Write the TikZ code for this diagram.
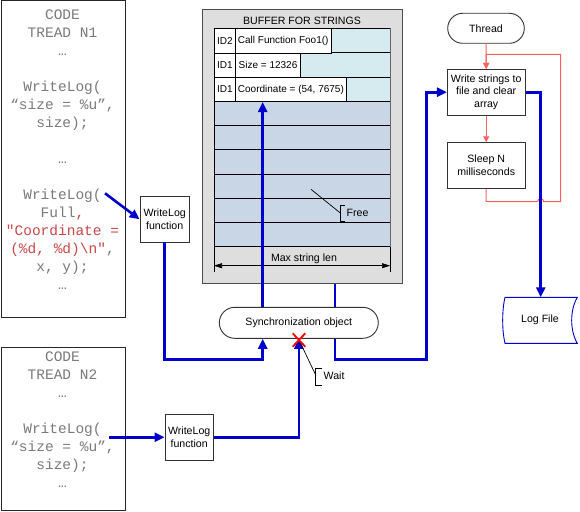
\documentclass[tikz,border=0pt]{standalone}
\usepackage{fontspec}
\setmainfont{Liberation Sans}
\newfontfamily\codefont{Liberation Mono}
\usetikzlibrary{arrows.meta}
\definecolor{codegray}{RGB}{122,122,122}
\definecolor{codered}{RGB}{200,72,72}
\definecolor{flowblue}{RGB}{0,0,204}
\definecolor{loopred}{RGB}{255,96,96}
\definecolor{bufgray}{RGB}{222,222,222}
\definecolor{usedcyan}{RGB}{213,235,240}
\definecolor{freeblue}{RGB}{201,214,230}
\begin{document}
\begin{tikzpicture}[x=1pt,y=-1pt,
  codeline/.style={font=\codefont\fontsize{14.5}{18}\selectfont, text=codegray, anchor=base, inner sep=0pt},
  lbl/.style={font=\fontsize{10.6}{12.8}\selectfont, inner sep=0pt, align=center},
  celltxt/.style={font=\fontsize{10}{12}\selectfont, inner sep=0pt, align=center},
  box/.style={draw=black!80, line width=0.9pt, fill=white, inner sep=0pt, lbl},
  codebox/.style={draw=black!85, line width=1pt, fill=white, inner sep=0pt, anchor=north west},
  cell/.style={draw=black, line width=0.8pt, fill=white, celltxt, anchor=north west, minimum height=24.3},
  bflow/.style={draw=flowblue, line width=2.6pt},
  bflowarr/.style={bflow, -{Triangle[length=10pt,width=9pt]}},
  rflow/.style={draw=loopred, line width=1pt},
  rflowarr/.style={rflow, -{Triangle[length=6pt,width=6pt]}},
  thinline/.style={draw=black, line width=0.7pt},
]
\useasboundingbox (0,0) rectangle (580,511);

% ---------- code boxes ----------
\node[codebox, minimum width=124.8, minimum height=316.2] (code1) at (0.5,0.5) {};
\node[codeline] (c1l1) at (62.5,19.5) {CODE};
\node[codeline] (c1l2) at (62.5,37.5) {TREAD N1};
\node[codeline] (c1l3) at (62.5,55.5) {…};
\node[codeline] (c1l5) at (62.5,91.5) {WriteLog(};
\node[codeline] (c1l6) at (62.5,109.5) {“size = \%u”,};
\node[codeline] (c1l7) at (62.5,127.5) {size);};
\node[codeline] (c1l9) at (62.5,163.5) {…};
\node[codeline] (c1l11) at (62.5,199.5) {WriteLog(};
\node[codeline] (c1l12) at (62.5,217.5) {Full{\color{codered},}};
\node[codeline, text=codered] (c1l13) at (62.5,235.5) {"Coordinate =};
\node[codeline, text=codered] (c1l14) at (62.5,253.5) {(\%d, \%d)\textbackslash n"{\color{codegray},}};
\node[codeline] (c1l15) at (62.5,271.5) {x, y);};
\node[codeline] (c1l16) at (62.5,289.5) {…};

\node[codebox, minimum width=124.8, minimum height=162.7] (code2) at (0.5,347.3) {};
\node[codeline] (c2l1) at (62.5,361.2) {CODE};
\node[codeline] (c2l2) at (62.5,379.2) {TREAD N2};
\node[codeline] (c2l3) at (62.5,397.2) {…};
\node[codeline] (c2l5) at (62.5,433.2) {WriteLog(};
\node[codeline] (c2l6) at (62.5,451.2) {“size = \%u”,};
\node[codeline] (c2l7) at (62.5,469.2) {size);};
\node[codeline] (c2l8) at (62.5,487.2) {…};

% ---------- WriteLog function boxes ----------
\node[box, minimum width=49.3, minimum height=45.3] (fn1) at (164.7,219.3) {WriteLog\\function};
\node[box, minimum width=48.3, minimum height=45.7] (fn2) at (189.2,437.2) {WriteLog\\function};

% ---------- buffer ----------
\node[draw=black!70, line width=0.9pt, fill=bufgray, inner sep=0pt, anchor=north west,
      minimum width=200.6, minimum height=274.3] (buffer) at (201.7,9) {};
\node[lbl] (buftitle) at (302,20.7) {BUFFER FOR STRINGS};
\fill[usedcyan] (214,28.3) rectangle (390,101.1);
\fill[freeblue] (214,101.1) rectangle (390,246.7);
\foreach \yy in {28.3,52.6,76.9,101.1,125.4,149.6,173.9,198.2,222.4,246.7}
  \draw[thinline] (214,\yy) -- (390,\yy);
\draw[thinline] (214,28.3) -- (214,246.7);
\draw[draw=black!60, line width=0.8pt] (390,28.3) -- (390,246.7);
\node[cell, minimum width=21] (r1id) at (214,28.3) {ID2};
\node[cell, minimum width=95.7] (r1t) at (235,28.3) {Call Function Foo1()};
\node[cell, minimum width=21] (r2id) at (214,52.6) {ID1};
\node[cell, minimum width=65.3] (r2t) at (235,52.6) {Size = 12326};
\node[cell, minimum width=21] (r3id) at (214,76.9) {ID1};
\node[cell, minimum width=111] (r3t) at (235,76.9) {Coordinate = (54, 7675)};

% max string len
\draw[thinline] (214,246.7) -- (214,271.7);
\draw[thinline] (390,246.7) -- (390,271.7);
\coordinate (mslL) at (214,265.7);
\coordinate (mslR) at (390,265.7);
\draw[thinline, {Triangle[length=8pt,width=5pt]}-{Triangle[length=8pt,width=5pt]}] (mslL) -- (mslR);
\node[lbl] (msl) at (304,258.3) {Max string len};

% free annotation
\coordinate (freeP) at (311,189.3);
\coordinate (freeB) at (340.7,213.3);
\draw[thinline] (freeP) -- (freeB);
\draw[thinline] (345,205) -- (340.7,205) -- (340.7,221.7) -- (345,221.7);
\node[lbl, anchor=west] (free) at (346.5,213.3) {Free};

% ---------- sync object ----------
\node[box, rounded corners=15.5pt, minimum width=159, minimum height=31] (sync) at (298.8,322.8) {Synchronization object};

% ---------- right flow ----------
\node[box, rounded corners=15pt, minimum width=76.6, minimum height=30] (thread) at (486,28.3) {Thread};
\node[box, minimum width=77.7, minimum height=45.7] (write) at (486.2,92.2) {Write strings to\\file and clear\\array};
\node[box, minimum width=77.7, minimum height=45.6] (sleep) at (486.2,165.5) {Sleep N\\milliseconds};

% log file
\draw[draw=flowblue, line width=0.9pt, fill=white]
  (505,297.3) -- (577.3,297.3) .. controls (569.8,310) and (569.8,330.6) .. (577.3,343.3)
  -- (505,343.3) .. controls (501.9,330.6) and (501.9,310) .. (505,297.3) -- cycle;
\node[lbl] (logfile) at (540,320) {Log File};
\coordinate (logtop) at (540.7,297.3);

% ---------- red loop ----------
\draw[rflowarr] (thread.south) -- (write.north);
\draw[rflowarr] (write.south) -- (sleep.north);
\draw[rflowarr] (sleep.south) -- (486.2,201.7) -- (537.7,201.7)
  .. controls (537.7,197.7) and (543.7,197.7) .. (543.7,201.7)
  -- (560.7,201.7) -- (560.7,54.3) -| (write.north);

% ---------- blue flows ----------
\coordinate (c1out) at (105,193.3);
\coordinate (c2out) at (109.3,437.2);
\draw[bflowarr] (c1out) -- (fn1.west);
\draw[bflowarr] (c2out) -- (fn2.west);
\coordinate (syncLb) at ([xshift=-36.1pt]sync.south);
\coordinate (syncLt) at ([xshift=-36.1pt]sync.north);
\coordinate (syncRb) at ([xshift=36.2pt]sync.south);
\coordinate (syncRt) at ([xshift=36.2pt]sync.north);
\draw[bflowarr] (fn1.south) -- ++(0,117.3) -| (syncLb);
\draw[bflowarr] (syncLt) -- (syncLt |- r3t.south);
\draw[bflow] (syncRt |- buffer.south) -- (syncRt);
\draw[bflowarr] (syncRb) -- ++(0,21) -- ++(91.7,0) |- (write.west);
\draw[bflowarr] (fn2.east) -| (sync.south);
\draw[bflowarr] (write.east) -| (logtop);

% ---------- wait mark ----------
\coordinate (waitP) at (299,340);
\coordinate (waitB) at (315.7,375);
\draw[thinline] (waitP) -- (waitB);
\draw[thinline] (322,368.3) -- (315.7,368.3) -- (315.7,385) -- (322,385);
\node[lbl, anchor=west] (wait) at (323.5,376) {Wait};
\draw[red, line width=1.8pt] (292.7,333.3) -- (305.3,346.7) (292.7,346.7) -- (305.3,333.3);
\end{tikzpicture}
\end{document}
